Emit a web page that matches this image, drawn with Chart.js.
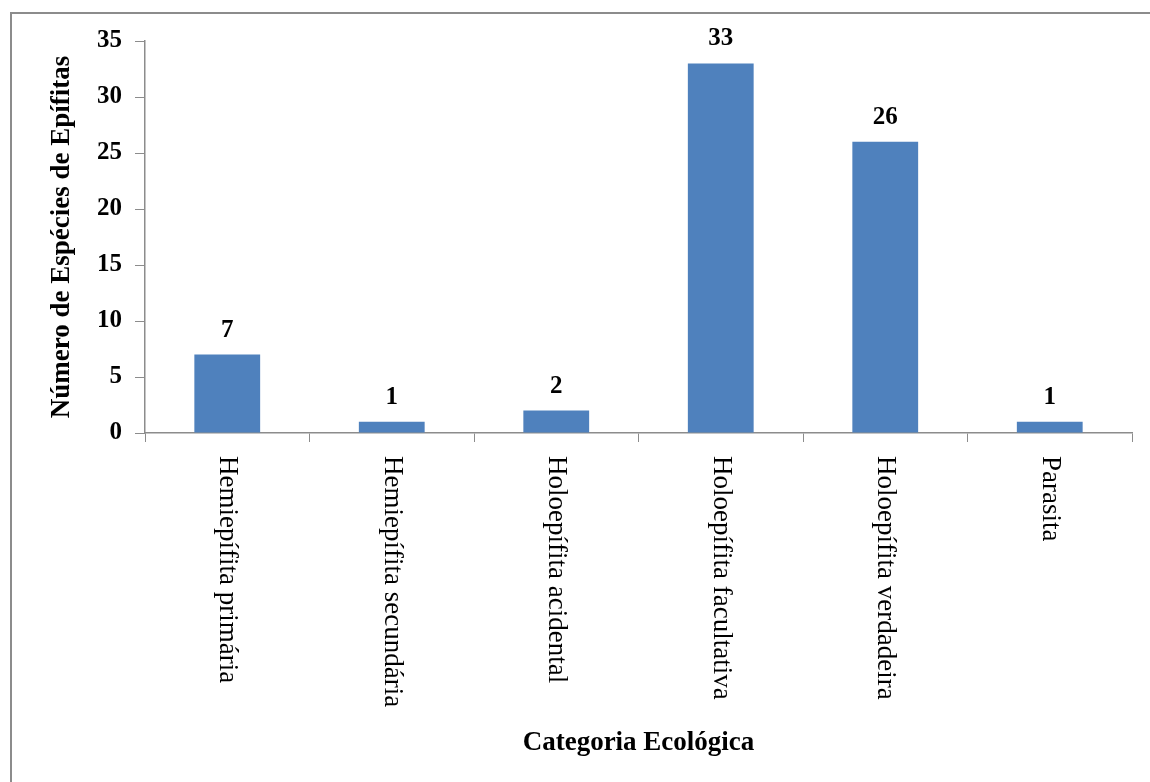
<!DOCTYPE html>
<html>
<head>
<meta charset="utf-8">
<script src="https://cdn.jsdelivr.net/npm/chart.js@4"></script>
<style>
  html, body { margin: 0; padding: 0; background: #fff; }
  #wrap { width: 1150px; height: 782px; position: relative; }
</style>
</head>
<body>
<div id="wrap"><canvas id="EpifitasChart"></canvas></div>
<script>
var categorias = [
  "Hemiepífita primária",
  "Hemiepífita secundária",
  "Holoepífita acidental",
  "Holoepífita facultativa",
  "Holoepífita verdadeira",
  "Parasita",
];
var especies = [7, 1, 2, 33, 26, 1];
var yTicks = [0, 5, 10, 15, 20, 25, 30, 35];

var serif = "'Liberation Serif', 'Times New Roman', serif";

// labels, valores e moldura desenhados por cima do grafico
var extras = {
  id: "extras",
  afterDraw: function (chart) {
    var ctx = chart.ctx;
    var x = chart.scales.x;
    var area = chart.chartArea;
    ctx.save();

    // moldura
    ctx.strokeStyle = "#8c8c8c";
    ctx.lineWidth = 2;
    ctx.strokeRect(11, 13, 1160, 800);

    // valores em cima das barras
    ctx.fillStyle = "#000";
    ctx.font = "bold 25px " + serif;
    ctx.textAlign = "center";
    ctx.textBaseline = "alphabetic";
    chart.getDatasetMeta(0).data.forEach(function (bar, i) {
      ctx.fillText(especies[i], bar.x, bar.y - 18);
    });

    // rotulos do eixo x, girados 90 graus
    ctx.font = "27px " + serif;
    ctx.textAlign = "left";
    ctx.textBaseline = "middle";
    categorias.forEach(function (c, i) {
      ctx.save();
      ctx.translate(x.getPixelForValue(i), area.bottom + 23);
      ctx.rotate(Math.PI / 2);
      ctx.fillText(c, 0, 0);
      ctx.restore();
    });

    // titulo do eixo x
    ctx.font = "bold 27px " + serif;
    ctx.textAlign = "center";
    ctx.textBaseline = "middle";
    ctx.fillText("Categoria Ecológica", (area.left + area.right) / 2, 743);
    ctx.restore();
  },
};

new Chart(document.getElementById("EpifitasChart"), {
  type: "bar",
  data: {
    labels: categorias,
    datasets: [
      {
        label: "Número de Espécies de Epífitas",
        data: especies,
        backgroundColor: "#4f81bd",
        borderWidth: 0,
        barPercentage: 0.8,
        categoryPercentage: 0.5,
      },
    ],
  },
  options: {
    responsive: true,
    maintainAspectRatio: false,
    animation: false,
    layout: {
      padding: { top: 41, right: 18, left: 10, bottom: 0 },
    },
    plugins: {
      legend: { display: false },
      tooltip: { enabled: false },
    },
    scales: {
      x: {
        grid: {
          offset: true,
          drawOnChartArea: false,
          color: "#8c8c8c",
          tickLength: 9,
        },
        border: { color: "#8c8c8c", width: 1.5 },
        ticks: { display: false },
        afterFit: function (scale) {
          scale.height = 349;
        },
      },
      y: {
        min: 0,
        max: 35,
        afterBuildTicks: function (scale) {
          scale.ticks = yTicks.map(function (v) { return { value: v }; });
        },
        grid: {
          drawOnChartArea: false,
          color: "#8c8c8c",
          tickLength: 10,
        },
        border: { color: "#8c8c8c", width: 1.5 },
        ticks: {
          color: "#000",
          padding: 13,
          font: { family: serif, size: 25, weight: "bold" },
        },
        title: {
          display: true,
          text: "Número de Espécies de Epífitas",
          color: "#000",
          font: { family: serif, size: 27, weight: "bold" },
          padding: { top: 36, bottom: 0 },
        },
        afterFit: function (scale) {
          scale.width = 135;
        },
      },
    },
  },
  plugins: [extras],
});
</script>
</body>
</html>
